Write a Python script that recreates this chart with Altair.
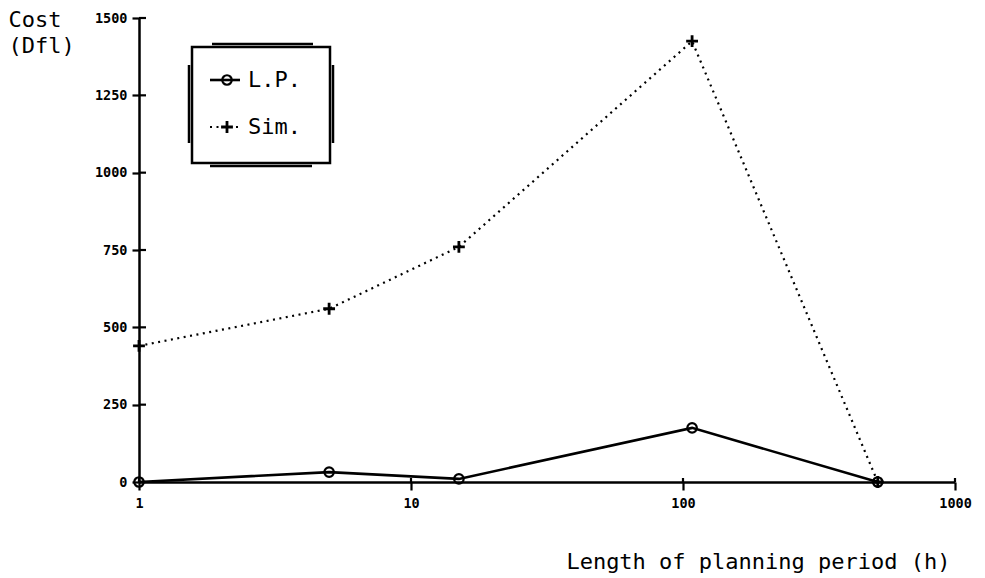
import altair as alt
import pandas as pd

# Planning horizon (hours) and the resulting cost for each method
period = [1, 5, 15, 108, 520]
cost_lp = [0, 32, 10, 175, 0]
cost_sim = [440, 560, 760, 1425, 0]
series_names = ["L.P.", "Sim."]
x_tick_values = [1, 10, 100, 1000]
y_tick_values = [0, 250, 500, 750, 1000, 1250, 1500]

FONT = "DejaVu Sans Mono"
W, H = 816, 464
PLUS = "M-1,0H1M0,-1V1"

lp = pd.DataFrame({"period": period, "cost": cost_lp, "series": series_names[0]})
sim = pd.DataFrame({"period": period, "cost": cost_sim, "series": series_names[1]})

x_scale = alt.Scale(type="log", domain=[1, 1000], nice=False)
y_scale = alt.Scale(domain=[0, 1500], nice=False, zero=False)

common_axis = dict(
    grid=False, domainColor="black", domainWidth=2.5, tickColor="black", tickWidth=2.2,
    labelFont=FONT, labelFontSize=13.5, labelFontWeight="bold", labelColor="black",
    labelFlush=False, labelOverlap=False,
    titleFont=FONT, titleFontSize=22, titleFontWeight="normal", titleColor="black",
)
x_axis = alt.Axis(
    values=x_tick_values, format="d", title="Length of planning period (h)",
    tickSize=8, labelPadding=6,
    titleAlign="right", titleBaseline="alphabetic", titleX=811, titleY=86,
    **common_axis,
)
y_axis = alt.Axis(
    values=y_tick_values, format="d", title=["Cost", "(Dfl)"],
    tickSize=7, labelPadding=5,
    titleAngle=0, titleAlign="left", titleBaseline="top",
    titleX=-131, titleY=-9, titleLineHeight=26,
    **common_axis,
)

X = alt.X("period:Q", scale=x_scale, axis=x_axis)
Y = alt.Y("cost:Q", scale=y_scale, axis=y_axis)

# Data series
lp_line = alt.Chart(lp).mark_line(color="black", strokeWidth=2.6).encode(x=X, y=Y)
lp_pts = alt.Chart(lp).mark_point(
    shape="circle", filled=False, color="black", size=90, strokeWidth=2.2, opacity=1
).encode(x=X, y=Y)
sim_line = alt.Chart(sim).mark_line(
    color="black", strokeWidth=2.2, strokeDash=[2, 4.5]
).encode(x=X, y=Y)
sim_pts = alt.Chart(sim).mark_point(
    shape=PLUS, filled=False, color="black", size=140, strokeWidth=2.8, opacity=1
).encode(x=X, y=Y)

# Inner halves of the axis ticks (ticks cross the axis lines)
y_inner = alt.Chart(pd.DataFrame({"cost": y_tick_values})).mark_rule(
    color="black", strokeWidth=2.2
).encode(y=Y, x=alt.value(0), x2=alt.value(7))
x_inner = alt.Chart(pd.DataFrame({"period": x_tick_values})).mark_rule(
    color="black", strokeWidth=2.2
).encode(x=X, y=alt.value(H), y2=alt.value(H - 4))

# Framed legend box
one = pd.DataFrame({"k": [0]})
box = alt.Chart(one).mark_rect(fill="white", stroke="black", strokeWidth=2.5).encode(
    x=alt.value(53), x2=alt.value(191), y=alt.value(29), y2=alt.value(145)
)


def edge(x, x2, y, y2):
    return alt.Chart(one).mark_rule(color="black", strokeWidth=2.5).encode(
        x=alt.value(x), x2=alt.value(x2), y=alt.value(y), y2=alt.value(y2)
    )


frame = [
    edge(73, 174, 26, 26),
    edge(71, 173, 148, 148),
    edge(50, 50, 47, 125),
    edge(194, 194, 47, 125),
]

leg_lp_line = alt.Chart(one).mark_rule(color="black", strokeWidth=2.6).encode(
    x=alt.value(71), x2=alt.value(101), y=alt.value(62)
)
leg_lp_pt = alt.Chart(one).mark_point(
    shape="circle", filled=False, color="black", size=90, strokeWidth=2.2, opacity=1
).encode(x=alt.value(88), y=alt.value(62))
leg_sim_line = alt.Chart(one).mark_rule(
    color="black", strokeWidth=2.2, strokeDash=[2, 4.5]
).encode(x=alt.value(71), x2=alt.value(101), y=alt.value(109))
leg_sim_pt = alt.Chart(one).mark_point(
    shape=PLUS, filled=False, color="black", size=140, strokeWidth=2.8, opacity=1
).encode(x=alt.value(88), y=alt.value(109))


def legend_label(name, y):
    return alt.Chart(pd.DataFrame({"label": [name]})).mark_text(
        font=FONT, fontSize=22, color="black", align="left", baseline="middle"
    ).encode(text="label:N", x=alt.value(109), y=alt.value(y))


chart = alt.layer(
    sim_line, lp_line, lp_pts, sim_pts, y_inner, x_inner,
    box, *frame,
    leg_lp_line, leg_lp_pt, leg_sim_line, leg_sim_pt,
    legend_label(series_names[0], 62), legend_label(series_names[1], 109),
).properties(
    width=W, height=H,
    padding={"left": 139, "top": 18, "right": 30, "bottom": 96},
    autosize="none",
    background="white",
).configure_view(stroke=None)

chart.save("out.html", embed_options={"renderer": "svg", "actions": False})
